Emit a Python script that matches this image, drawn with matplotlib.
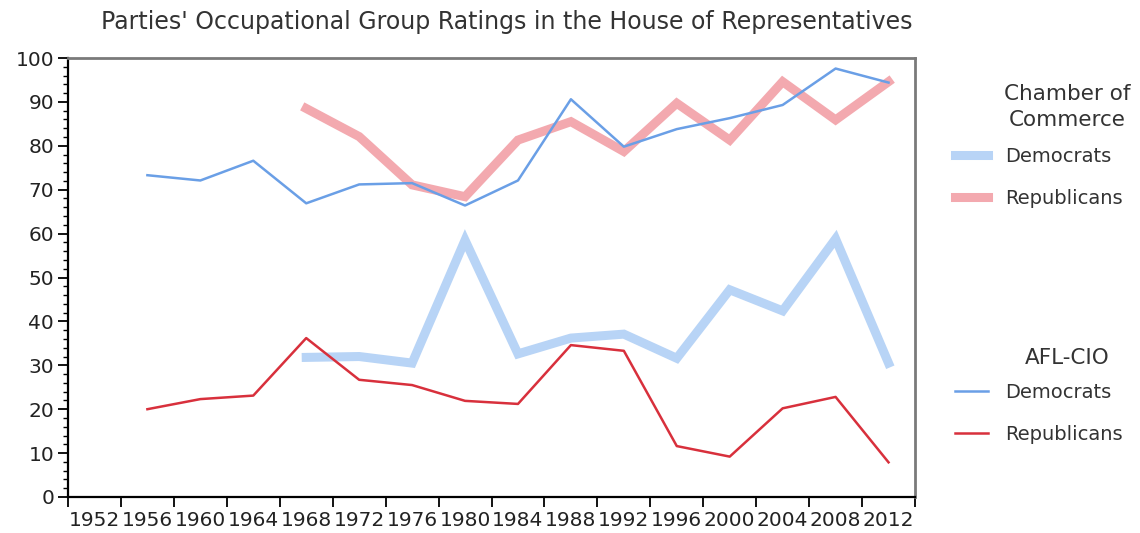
import numpy as np
import matplotlib
matplotlib.use("Agg")
import matplotlib.pyplot as plt
from matplotlib.lines import Line2D
from matplotlib.ticker import MultipleLocator

plt.rcParams['font.family'] = ['DejaVu Sans']

# -----------------------------
# Data
# -----------------------------
years = [1952, 1956, 1960, 1964, 1968, 1972, 1976, 1980,
         1984, 1988, 1992, 1996, 2000, 2004, 2008, 2012]

# AFL-CIO ratings, start 1956
afl_years = years[1:]
afl_dem = [73.3, 72.1, 76.6, 66.9, 71.2, 71.5, 66.4, 72.1,
           90.6, 79.8, 83.8, 86.3, 89.3, 97.6, 94.4]
afl_rep = [20.0, 22.3, 23.1, 36.2, 26.7, 25.5, 21.9, 21.2,
           34.6, 33.3, 11.6, 9.2, 20.2, 22.8, 7.9]

# Chamber of Commerce ratings, start 1968
coc_years = years[4:]
coc_dem = [31.8, 32.0, 30.5, 58.5, 32.6, 36.2, 37.1, 31.6,
           47.2, 42.4, 58.8, 30.5]
coc_rep = [88.5, 82.1, 71.1, 68.4, 81.3, 85.5, 78.7, 89.7,
           81.3, 94.6, 85.9, 94.6]

col_afl_dem = "#6a9fe6"
col_afl_rep = "#d8303c"
col_coc_dem = "#b8d4f6"
col_coc_rep = "#f3a9af"
thick = 6.5
thin = 1.8
txt = '#333333'

# -----------------------------
# Figure
# -----------------------------
fig = plt.figure(figsize=(11.4, 5.33), dpi=100)
ax = fig.add_axes([68/1140, 1-497/533, (915-68)/1140, (497-58)/533])

ax.plot(coc_years, coc_dem, color=col_coc_dem, lw=thick, solid_joinstyle='miter')
ax.plot(coc_years, coc_rep, color=col_coc_rep, lw=thick, solid_joinstyle='miter')
ax.plot(afl_years, afl_dem, color=col_afl_dem, lw=thin)
ax.plot(afl_years, afl_rep, color=col_afl_rep, lw=thin)

ax.set_xlim(1950, 2014)
ax.set_ylim(0, 100)

# ticks between categories, labels at the centres
ax.set_xticks(np.arange(1950, 2015, 4))
ax.set_xticklabels([])
ax.set_xticks(years, minor=True)
ax.set_xticklabels([str(y) for y in years], minor=True, fontsize=14.5, color='#222222')
ax.tick_params(axis='x', which='major', length=7, width=1.3, direction='out')
ax.tick_params(axis='x', which='minor', length=0, pad=10)

ax.set_yticks(np.arange(0, 101, 10))
ax.yaxis.set_minor_locator(MultipleLocator(2))
ax.tick_params(axis='y', which='major', length=7, width=1.3, labelsize=14.5,
               labelcolor='#222222', pad=3)
ax.tick_params(axis='y', which='minor', length=3.5, width=1)

for s in ['left', 'bottom']:
    ax.spines[s].set_color('black')
    ax.spines[s].set_linewidth(1.6)
for s in ['top', 'right']:
    ax.spines[s].set_color('#7a7a7a')
    ax.spines[s].set_linewidth(2)

fig.text(507/1140, 1-22/533, "Parties' Occupational Group Ratings in the House of Representatives",
         ha='center', va='center', fontsize=17, color=txt)

# -----------------------------
# Legends (title as separate centred text)
# -----------------------------
def add_legend(title, handles, labels, title_y, top):
    fig.text(1067/1140, 1-title_y/533, title, ha='center', va='center',
             fontsize=15.5, color=txt, linespacing=1.35, multialignment='center')
    leg = fig.legend(handles, labels, loc='upper left',
                     bbox_to_anchor=(955/1140, 1-top/533), frameon=False,
                     fontsize=14, borderpad=0, borderaxespad=0,
                     handlelength=1.7, handletextpad=0.9, labelspacing=1.16,
                     labelcolor=txt)
    return leg

h1 = [Line2D([], [], color=col_coc_dem, lw=thick), Line2D([], [], color=col_coc_rep, lw=thick)]
h2 = [Line2D([], [], color=col_afl_dem, lw=thin), Line2D([], [], color=col_afl_rep, lw=thin)]
add_legend("Chamber of\nCommerce", h1, ["Democrats", "Republicans"], 107, 147)
add_legend("AFL-CIO", h2, ["Democrats", "Republicans"], 358, 383)

fig.savefig("out.png", dpi=100)
